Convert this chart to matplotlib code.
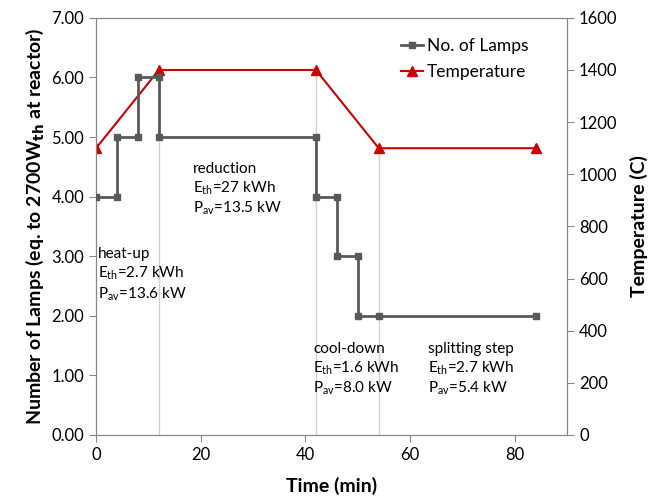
import matplotlib.pyplot as plt

plt.rcParams['font.family'] = ['Lato', 'DejaVu Sans']

# lamp schedule (step profile)
t_lamps = [0, 4, 4, 8, 8, 12, 12, 42, 42, 46, 46, 50, 50, 54, 84]
n_lamps = [4, 4, 5, 5, 6, 6, 5, 5, 4, 4, 3, 3, 2, 2, 2]

# temperature profile
t_temp = [0, 12, 42, 54, 84]
temp = [1100, 1400, 1400, 1100, 1100]

# phase boundaries
t_marks = [12, 42, 54]

fig = plt.figure(figsize=(6.49, 4.96), dpi=100)
ax = fig.add_axes([0.148, 0.123, 0.726, 0.841])
ax2 = ax.twinx()

for t in t_marks:
    i = t_temp.index(t)
    ax2.plot([t, t], [0, temp[i]], color='#d0d0d0', lw=1, zorder=1)

l1, = ax.plot(t_lamps, n_lamps, color='#595959', lw=2, marker='s', ms=4.5, label='No. of Lamps', zorder=3)
l2, = ax2.plot(t_temp, temp, color='#cc0000', lw=1.5, marker='^', ms=7, label='Temperature', zorder=3)

ax.set_zorder(ax2.get_zorder() + 1)
ax.patch.set_visible(False)

ax.set_xlim(0, 90)
ax.set_ylim(0, 7)
ax2.set_ylim(0, 1600)
ax.set_xticks([0, 20, 40, 60, 80])
ax.set_yticks([0, 1, 2, 3, 4, 5, 6, 7])
ax.set_yticklabels([f'{v:.2f}' for v in range(8)])
ax2.set_yticks(range(0, 1601, 200))

for a in (ax, ax2):
    for s in a.spines.values():
        s.set_color('#868686')
    a.tick_params(colors='#868686', labelcolor='black', labelsize=12, length=5)

ax.set_xlabel('Time (min)', fontsize=14, fontweight='bold', labelpad=10)
ax.set_ylabel(r'Number of Lamps (eq. to 2700W$_{\mathbf{th}}$ at reactor)', fontsize=14, fontweight='bold')
ax2.set_ylabel('Temperature (C)', fontsize=14, fontweight='bold', labelpad=9)

fs = 11
ls = 1.25
ax.text(0.4, 3.15, 'heat-up\n$\\mathregular{E_{th}}$=2.7 kWh\n$\\mathregular{P_{av}}$=13.6 kW', fontsize=fs, va='top', linespacing=ls)
ax.text(18.5, 4.58, 'reduction\n$\\mathregular{E_{th}}$=27 kWh\n$\\mathregular{P_{av}}$=13.5 kW', fontsize=fs, va='top', linespacing=ls)
ax.text(41.5, 1.56, 'cool-down\n$\\mathregular{E_{th}}$=1.6 kWh\n$\\mathregular{P_{av}}$=8.0 kW', fontsize=fs, va='top', linespacing=ls)
ax.text(63.5, 1.56, 'splitting step\n$\\mathregular{E_{th}}$=2.7 kWh\n$\\mathregular{P_{av}}$=5.4 kW', fontsize=fs, va='top', linespacing=ls)

ax.legend([l1, l2], ['No. of Lamps', 'Temperature'], loc='upper right', bbox_to_anchor=(0.95, 0.99),
          frameon=False, fontsize=12.5, handlelength=1.3, handletextpad=0.2, labelspacing=0.6)

fig.savefig('out.png', dpi=100)
